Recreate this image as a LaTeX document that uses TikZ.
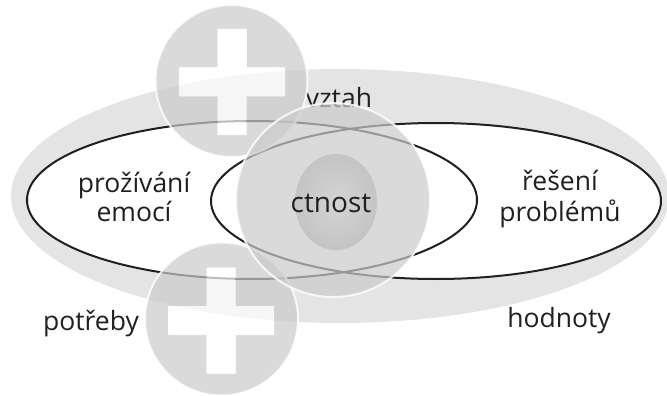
\documentclass[tikz,border=0pt]{standalone}
\usepackage{fontspec}
\setmainfont{Open Sans}
\definecolor{ringgray}{RGB}{228,228,229}
\definecolor{discgray}{RGB}{203,203,204}
\definecolor{coreinner}{RGB}{212,212,213}
\definecolor{coreouter}{RGB}{196,196,197}
\definecolor{ink}{RGB}{35,31,32}
\newcommand\plusat[2]{({#1-14.5},{#2-53}) -- ({#1+14.5},{#2-53}) -- ({#1+14.5},{#2-14.5}) -- ({#1+53},{#2-14.5}) -- ({#1+53},{#2+14.5}) -- ({#1+14.5},{#2+14.5}) -- ({#1+14.5},{#2+53}) -- ({#1-14.5},{#2+53}) -- ({#1-14.5},{#2+14.5}) -- ({#1-53},{#2+14.5}) -- ({#1-53},{#2-14.5}) -- ({#1-14.5},{#2-14.5}) -- cycle}
\begin{document}
\begin{tikzpicture}[x=1pt,y=-1pt,
  lbl/.style={font=\fontsize{26.5}{28}\selectfont, text=ink, inner sep=0pt, anchor=base},
  outline/.style={draw=ink, line width=2pt},
  disc/.style={fill=discgray, fill opacity=0.7, even odd rule},
  discrim/.style={draw=white, draw opacity=0.8, line width=2pt},
  crossfill/.style={fill=white, fill opacity=0.7}]
\useasboundingbox (0,0) rectangle (667,396);
\clip (0,0) rectangle (667,396);
% outer gray ring
\fill[ringgray] (340,196) ellipse [x radius=329pt, y radius=127pt];
% two white ellipses
\fill[white] (252,200) ellipse [x radius=225pt, y radius=79pt];
\fill[white] (436,201) ellipse [x radius=225pt, y radius=78pt];
\draw[outline] (252,200) ellipse [x radius=225pt, y radius=79pt];
\draw[outline] (436,201) ellipse [x radius=225pt, y radius=78pt];
% labels
\node[lbl] (prozivani) at (134,192) {prožívání};
\node[lbl] (emoci) at (134,221) {emocí};
\node[lbl] (reseni) at (560,190) {řešení};
\node[lbl] (problemu) at (560,221) {problémů};
\node[lbl] (vztah) at (339,107) {vztah};
\node[lbl] (potreby) at (91,330) {potřeby};
\node[lbl] (hodnoty) at (559,327) {hodnoty};
% top circle with cross
\fill[disc] (231.5,81) circle [radius=76pt] \plusat{232}{82};
\fill[crossfill] \plusat{232}{82};
\draw[discrim] (231.5,81) circle [radius=76pt];
% bottom circle with cross
\fill[disc] (221.5,319) circle [radius=76.5pt] \plusat{221}{320.5};
\fill[crossfill] \plusat{221}{320.5};
\draw[discrim] (221.5,319) circle [radius=76.5pt];
% central circle
\fill[disc] (333,200) circle [radius=97pt];
\draw[discrim] (333,200) circle [radius=97pt];
\shade[inner color=coreinner, outer color=coreouter] (336,202) ellipse [x radius=41pt, y radius=48pt];
\node[lbl, font=\fontsize{28}{30}\selectfont] (ctnost) at (331,212) {ctnost};
\end{tikzpicture}
\end{document}
